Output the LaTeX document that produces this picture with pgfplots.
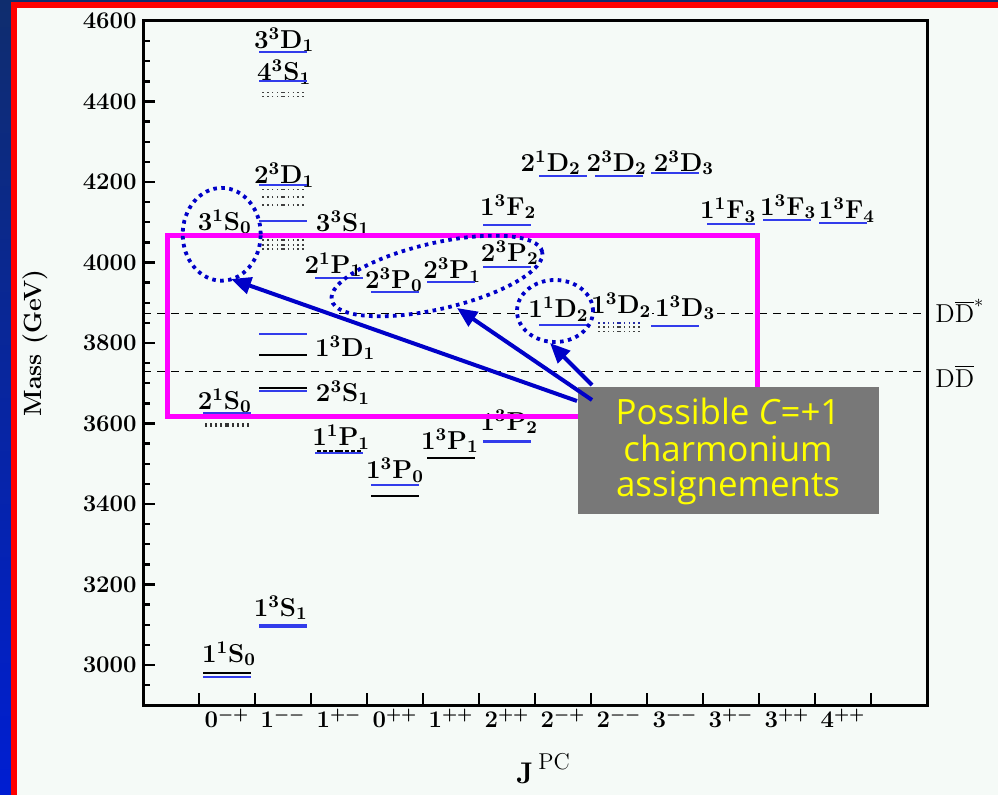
\documentclass[border=0pt]{standalone}
\usepackage{fontspec}
\usepackage{pgfplots}
\usepackage{pgfplotstable}
\pgfplotsset{compat=1.18}
\usetikzlibrary{arrows.meta}
\newfontfamily\boxfont{Open Sans}
\definecolor{panel}{RGB}{245,250,247}
\definecolor{lvlblue}{RGB}{50,60,235}
\definecolor{arrblue}{RGB}{0,0,200}
\definecolor{boxgray}{RGB}{120,120,120}
\definecolor{mag}{RGB}{255,0,255}
\definecolor{bgtop}{RGB}{15,45,110}
\definecolor{bgbot}{RGB}{0,30,210}
\definecolor{boxyellow}{RGB}{255,255,0}

% theory (blue) levels: column centre, mass
\pgfplotstableread{
x m
1.5 2971
1.5 3626
1.5 4063
2.5 3681
2.5 3822
2.5 4104
2.5 4192
2.5 4451
2.5 4523
3.5 3526
3.5 3962
4.5 3447
4.5 3926
5.5 3952
6.5 3989
6.5 4093
7.5 3845
7.5 4215
8.5 4215
9.5 3843
9.5 4222
10.5 4096
11.5 4105
12.5 4098
}\theory
\pgfplotstableread{
x m
2.5 3097
6.5 3556
}\theorythick
% experimental (black) levels
\pgfplotstableread{
x m
1.5 2980
2.5 3688
2.5 3770
4.5 3420
5.5 3514
}\expt
% dotted bands
\pgfplotstableread{
x m
2.5 4033
2.5 4043
2.5 4056
2.5 4143
2.5 4163
2.5 4182
2.5 4413
2.5 4423
8.5 3828
8.5 3840
}\bands

\tikzset{
 lab/.style={font=\bfseries\boldmath\fontsize{13}{15}\selectfont, inner sep=0.4bp, fill=panel},
 ellip/.style={arrblue, line width=1.9bp, dash pattern=on 1.8bp off 2.2bp},
 arr/.style={arrblue, line width=2bp, -{Triangle[length=10bp,width=8.5bp]}},
}
\pgfplotsset{
 lvl/.style={draw=none, mark=none, forget plot,
  error bars/.cd, x dir=both, x fixed=0.42, error mark=none,
  error bar style={#1}},
}

\begin{document}
\begin{tikzpicture}
\useasboundingbox (0bp,0bp) rectangle (499bp,397.5bp);
\shade[top color=bgtop,bottom color=bgbot] (0bp,0bp) rectangle (499bp,397.5bp);
\fill[red] (5.35bp,0bp) rectangle (499bp,396.65bp);
\fill[panel] (8.65bp,0bp) rectangle (499bp,393.3bp);

\begin{axis}[
 at={(71.5bp,44.9bp)}, anchor=south west,
 width=392bp, height=342.1bp, scale only axis,
 xmin=0, xmax=14, ymin=2900, ymax=4600,
 xtick={1,...,13}, x tick label as interval,
 xticklabels={$0^{-+}$,$1^{--}$,$1^{+-}$,$0^{++}$,$1^{++}$,$2^{++}$,$2^{-+}$,$2^{--}$,$3^{--}$,$3^{+-}$,$3^{++}$,$4^{++}$},
 ytick={3000,3200,...,4600}, minor y tick num=3,
 extra y ticks={2950}, extra y tick labels={}, extra y tick style={major tick length=3.5bp},
 tick align=inside, xtick pos=bottom, ytick pos=left,
 major tick length=6bp, minor tick length=3.5bp,
 axis line style={line width=1.5bp},
 tick style={black, line width=1.2bp},
 /pgf/number format/assume math mode=true,
 /pgf/number format/1000 sep={},
 yticklabel style={font=\bfseries\fontsize{12}{14}\selectfont, inner sep=3bp},
 xticklabel style={font=\boldmath\fontsize{12}{14}\selectfont, inner sep=1.5bp},
 clip=false,
]
% thresholds
\addplot[black, line width=0.6bp, dash pattern=on 4bp off 3bp] coordinates {(0,3873) (14,3873)};
\addplot[black, line width=0.6bp, dash pattern=on 4bp off 3bp] coordinates {(0,3730) (14,3730)};
\node[anchor=base west, inner sep=0, font=\fontsize{13}{15}\selectfont, xshift=4bp, yshift=-4.5bp] at (axis cs:14,3873) {$\mathrm{D\overline{D}}^{*}$};
\node[anchor=base west, inner sep=0, font=\fontsize{13}{15}\selectfont, xshift=4bp, yshift=-8bp] at (axis cs:14,3730) {$\mathrm{D\overline{D}}$};

% labels
\node[lab] at (axis cs:1.536,3027) {1$^1$S$_0$};
\node[lab] at (axis cs:2.46,3142) {1$^3$S$_1$};
\node[lab] at (axis cs:1.46,3656) {2$^1$S$_0$};
\node[lab] at (axis cs:3.57,3676) {2$^3$S$_1$};
\node[lab] at (axis cs:3.61,3788) {1$^3$D$_1$};
\node[lab] at (axis cs:1.46,4101) {3$^1$S$_0$};
\node[lab] at (axis cs:3.57,4098) {3$^3$S$_1$};
\node[lab] at (axis cs:2.52,4217) {2$^3$D$_1$};
\node[lab] at (axis cs:2.52,4473) {4$^3$S$_1$};
\node[lab] at (axis cs:2.52,4553) {3$^3$D$_1$};
\node[lab] at (axis cs:3.54,3566) {1$^1$P$_1$};
\node[lab] at (axis cs:4.5,3484) {1$^3$P$_0$};
\node[lab] at (axis cs:5.48,3557) {1$^3$P$_1$};
\node[lab] at (axis cs:6.54,3604) {1$^3$P$_2$};
\node[lab] at (axis cs:3.40,3994) {2$^1$P$_1$};
\node[lab] at (axis cs:4.48,3957) {2$^3$P$_0$};
\node[lab] at (axis cs:5.52,3981) {2$^3$P$_1$};
\node[lab] at (axis cs:6.55,4024) {2$^3$P$_2$};
\node[lab] at (axis cs:6.52,4138) {1$^3$F$_2$};
\node[lab] at (axis cs:7.42,3884) {1$^1$D$_2$};
\node[lab] at (axis cs:8.54,3894) {1$^3$D$_2$};
\node[lab] at (axis cs:9.68,3887) {1$^3$D$_3$};
\node[lab] at (axis cs:7.28,4247) {2$^1$D$_2$};
\node[lab] at (axis cs:8.46,4247) {2$^3$D$_2$};
\node[lab] at (axis cs:9.66,4247) {2$^3$D$_3$};
\node[lab] at (axis cs:10.45,4130) {1$^1$F$_3$};
\node[lab] at (axis cs:11.52,4138) {1$^3$F$_3$};
\node[lab] at (axis cs:12.57,4130) {1$^3$F$_4$};

% levels
\addplot[lvl={draw=lvlblue, line width=0.9bp}] table[x=x,y=m] {\theory};
\addplot[lvl={draw=lvlblue, line width=1.6bp}] table[x=x,y=m] {\theorythick};
\addplot[lvl={draw=black, line width=1.3bp}] table[x=x,y=m] {\expt};
\addplot[lvl={draw=black!75, line width=0.7bp, dash pattern=on 0.8bp off 1.6bp}] table[x=x,y=m] {\bands};
\addplot[lvl={draw=lvlblue!70!black, line width=0.8bp, dash pattern=on 0.8bp off 1.6bp}] coordinates {(8.5,3850)};
\addplot[lvl={draw=black, line width=0.8bp, dash pattern=on 2bp off 1bp}] coordinates {(3.5,3532)};
\addplot[lvl={draw=black!80, line width=1.6bp, dash pattern=on 0.9bp off 1.6bp}] coordinates {(1.5,3596)};

% highlight box
\addplot[mag, line width=2.5bp, line cap=rect] coordinates {(0.446,4068) (10.98,4068) (10.98,3618.5) (0.446,3618.5) (0.446,4068)};
\end{axis}

% axis titles
\node[rotate=90, font=\bfseries\fontsize{12.5}{15}\selectfont] at (17.5bp,226bp) {Mass (GeV)};
\node[anchor=base, inner sep=0] at (271.5bp,6bp) {{\fontsize{15}{18}\selectfont\bfseries J}\hspace{2.5bp}\raisebox{7bp}{\fontsize{11.5}{13}\selectfont PC}};

% ellipses
\draw[ellip] (110.85bp,280.35bp) ellipse [x radius=19.5bp, y radius=23.2bp];
\draw[ellip, rotate around={13:(218.5bp,259.5bp)}] (218.5bp,259.5bp) ellipse [x radius=54bp, y radius=16.5bp];
\draw[ellip] (277.5bp,242bp) ellipse [x radius=19bp, y radius=15.5bp];

% annotation box
\fill[boxgray] (289bp,140.5bp) rectangle (439.5bp,204bp);
\node[anchor=base, text=boxyellow, font=\boxfont\fontsize{17.5}{20}\selectfont] at (364bp,185bp) {Possible \textit{C}=+1};
\node[anchor=base, text=boxyellow, font=\boxfont\fontsize{17.5}{20}\selectfont] at (364bp,166.6bp) {charmonium};
\node[anchor=base, text=boxyellow, font=\boxfont\fontsize{17.5}{20}\selectfont] at (364bp,149.2bp) {assignements};

% arrows
\draw[arr] (288.5bp,197bp) -- (115.5bp,258bp);
\draw[arr] (296bp,197.5bp) -- (228.5bp,243.5bp);
\draw[arr] (296bp,205bp) -- (275bp,226bp);
\end{tikzpicture}
\end{document}
